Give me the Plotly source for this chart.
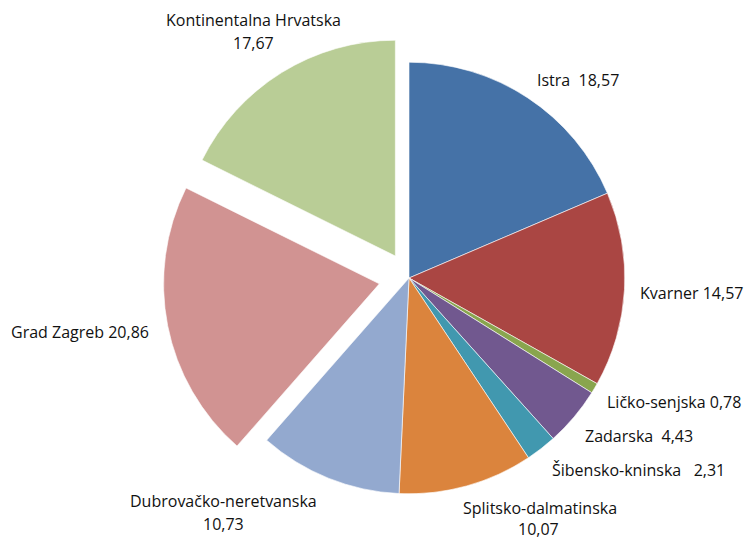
import plotly.graph_objects as go

# udio po regijama (%)
regions = ["Istra", "Kvarner", "Ličko-senjska", "Zadarska", "Šibensko-kninska",
           "Splitsko-dalmatinska", "Dubrovačko-neretvanska", "Grad Zagreb",
           "Kontinentalna Hrvatska"]
shares = [18.57, 14.57, 0.78, 4.43, 2.31, 10.07, 10.73, 20.86, 17.67]
colors = ["#4572A7", "#AA4643", "#89A54E", "#71588F", "#4198AF",
          "#DB843D", "#93A9CF", "#D19392", "#B9CD96"]
pulls = [0, 0, 0, 0, 0, 0, 0, 0.14, 0.12]

W, H = 745, 539
FONT = "Open Sans"


def fmt(v):
    return f"{v:.2f}".replace(".", ",")


fig = go.Figure(go.Pie(
    labels=regions,
    values=shares,
    sort=False,
    direction="clockwise",
    rotation=0,
    pull=pulls,
    marker=dict(colors=colors, line=dict(color="white", width=0.6)),
    textinfo="none",
    hoverinfo="label+value",
    showlegend=False,
    domain=dict(x=[163 / W, 655 / W], y=[1 - 524 / H, 1 - 32 / H]),
))

# label placement (pixel centres) - name line, optional value line
label_pos = {
    "Istra": [(578, 80, "{n}  {v}")],
    "Kvarner": [(691, 293, "{n} {v}")],
    "Ličko-senjska": [(674, 402, "{n} {v}")],
    "Zadarska": [(639, 436, "{n}  {v}")],
    "Šibensko-kninska": [(638, 470, "{n}   {v}")],
    "Splitsko-dalmatinska": [(540, 508, "{n}"), (538, 529, "{v}")],
    "Dubrovačko-neretvanska": [(223, 501, "{n}"), (223, 524, "{v}")],
    "Grad Zagreb": [(80, 332, "{n} {v}")],
    "Kontinentalna Hrvatska": [(254, 20, "{n}"), (253, 43, "{v}")],
}

annotations = []
for name, val in zip(regions, shares):
    for x, y, tpl in label_pos[name]:
        annotations.append(dict(
            x=x / W, y=1 - y / H, xref="paper", yref="paper",
            text=tpl.format(n=name, v=fmt(val)),
            showarrow=False, xanchor="center", yanchor="middle",
            font=dict(family=FONT, size=16, color="#111111"),
        ))

fig.update_layout(
    width=W, height=H,
    margin=dict(l=0, r=0, t=0, b=0),
    paper_bgcolor="white",
    plot_bgcolor="white",
    annotations=annotations,
)

fig.write_html("out.html", config={"displayModeBar": False},
               post_script="document.body.style.margin='0';")
